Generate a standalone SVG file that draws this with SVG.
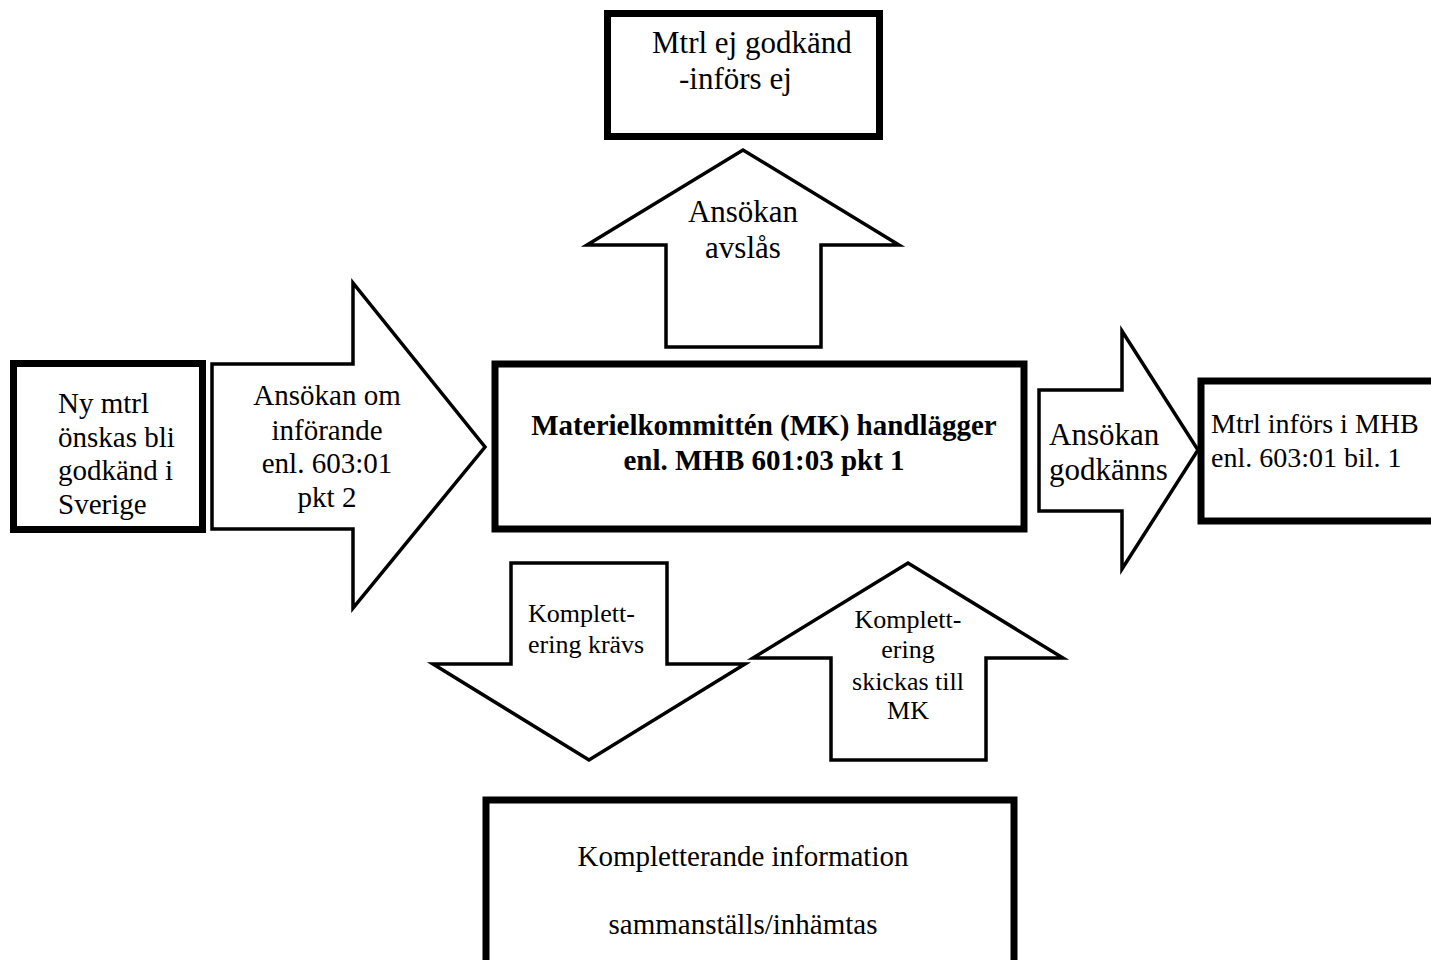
<svg xmlns="http://www.w3.org/2000/svg" width="1431" height="960" viewBox="0 0 1431 960">
<style>
.box{fill:#fff;stroke:#000;stroke-width:7}
.arrow{fill:#fff;stroke:#000;stroke-width:3.5;stroke-linejoin:miter}
text{font-family:"Liberation Serif","Times New Roman",serif;fill:#000}
.c{text-anchor:middle}
</style>
<rect width="1431" height="960" fill="#fff"/>
<g id="connectors">
  <g id="arrow-ansokan-om">
    <polygon class="arrow" points="212,364 353,364 353,283 485,447 353,608 353,529 212,529"/>
    <text class="c" x="327" y="405" font-size="29">Ansökan om</text>
    <text class="c" x="327" y="440" font-size="29">införande</text>
    <text class="c" x="327" y="473" font-size="29">enl. 603:01</text>
    <text class="c" x="327" y="507" font-size="29">pkt 2</text>
  </g>
  <g id="arrow-avslas">
    <polygon class="arrow" points="666,347 666,245 587,245 743,150 899,245 821,245 821,347"/>
    <text class="c" x="743" y="222" font-size="31">Ansökan</text>
    <text class="c" x="743" y="258" font-size="31">avslås</text>
  </g>
  <g id="arrow-godkanns">
    <polygon class="arrow" points="1039,390 1122,390 1122,331 1198,450 1122,569 1122,511 1039,511"/>
    <text x="1049" y="445" font-size="31">Ansökan</text>
    <text x="1049" y="480" font-size="31">godkänns</text>
  </g>
  <g id="arrow-komplettering-kravs">
    <polygon class="arrow" points="511,563 667,563 667,664 745,664 589,760 433,664 511,664"/>
    <text x="528" y="622" font-size="26">Komplett-</text>
    <text x="528" y="653" font-size="26">ering krävs</text>
  </g>
  <g id="arrow-komplettering-skickas">
    <polygon class="arrow" points="831,760 831,658 753,658 908,563 1063,658 986,658 986,760"/>
    <text class="c" x="908" y="628" font-size="26">Komplett-</text>
    <text class="c" x="908" y="658" font-size="26">ering</text>
    <text class="c" x="908" y="690" font-size="26">skickas till</text>
    <text class="c" x="908" y="719" font-size="26">MK</text>
  </g>
</g>
<g id="node-ny-mtrl">
  <rect class="box" x="13.5" y="363.5" width="189" height="166"/>
  <text x="58" y="413" font-size="29">Ny mtrl</text>
  <text x="58" y="447" font-size="29">önskas bli</text>
  <text x="58" y="480" font-size="29">godkänd i</text>
  <text x="58" y="514" font-size="29">Sverige</text>
</g>
<g id="node-ej-godkand">
  <rect class="box" x="607.5" y="13.5" width="272" height="123"/>
  <text x="652" y="53" font-size="31">Mtrl ej godkänd</text>
  <text x="679" y="89" font-size="31">-införs ej</text>
</g>
<g id="node-mk">
  <rect class="box" x="495" y="364" width="529" height="165" stroke-width="8"/>
  <text class="c" x="764" y="435" font-size="29" font-weight="bold">Materielkommittén (MK) handlägger</text>
  <text class="c" x="764" y="470" font-size="29" font-weight="bold">enl. MHB 601:03 pkt 1</text>
</g>
<g id="node-infors">
  <rect class="box" x="1201" y="381" width="240" height="140" stroke-width="7.5"/>
  <text x="1211" y="433" font-size="28">Mtrl införs i MHB</text>
  <text x="1211" y="467" font-size="28">enl. 603:01 bil. 1</text>
</g>
<g id="node-kompletterande">
  <rect class="box" x="486" y="800" width="528" height="200" stroke-width="4"/>
  <text class="c" x="743" y="866" font-size="29">Kompletterande information</text>
  <text class="c" x="743" y="934" font-size="29">sammanställs/inhämtas</text>
</g>
</svg>
